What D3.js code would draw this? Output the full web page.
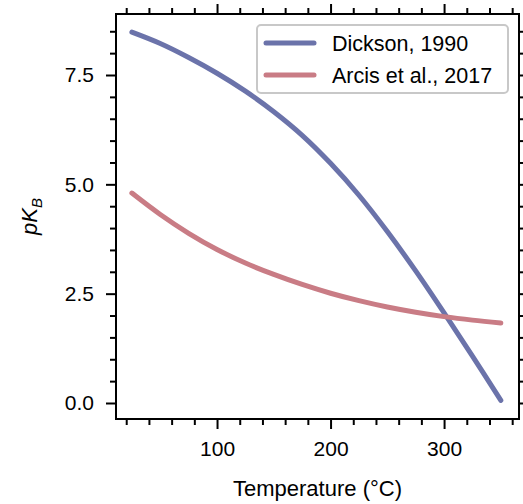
<!DOCTYPE html>
<html><head><meta charset="utf-8">
<script src="https://cdn.jsdelivr.net/npm/d3@7"></script>
<style>
html,body{margin:0;padding:0;background:#fff;}
svg text{font-family:"Liberation Sans",Arial,sans-serif;}
</style></head>
<body>
<svg id="chart" width="523" height="504"></svg>
<script>
const temperatures = [25, 50, 75, 100, 125, 150, 175, 200, 225, 250, 275, 300, 325, 350];
const dickson1990 = [8.48, 8.22, 7.90, 7.54, 7.13, 6.66, 6.12, 5.48, 4.75, 3.92, 3.02, 2.06, 1.07, 0.06];
const arcis2017 = [4.80, 4.31, 3.88, 3.51, 3.20, 2.94, 2.71, 2.51, 2.34, 2.195, 2.075, 1.975, 1.895, 1.83];
const seriesNames = ["Dickson, 1990", "Arcis et al., 2017"];
const seriesColors = ["#6b73aa", "#c97c85"];
const xTicks = [100, 200, 300];
const yTicks = [0.0, 2.5, 5.0, 7.5];

const svg = d3.select("#chart");
const L = 116, R = 519, T = 14, B = 419;
const x = d3.scaleLinear().domain([11, 366]).range([L, R]);
const y = d3.scaleLinear().domain([-0.366, 8.895]).range([B, T]);

const g = svg.append("g");

const xMinor = d3.range(20, 366, 20).filter(v => v % 100 !== 0);
const yMinor = d3.range(0, 8.9, 0.5).filter(v => Math.abs(v / 2.5 - Math.round(v / 2.5)) > 1e-6);

function styleAxis(sel) {
  sel.select(".domain").remove();
  sel.selectAll(".tick line").attr("stroke", "#000").attr("stroke-width", 2);
  sel.selectAll("text").attr("fill", "#000");
}

const xb = g.append("g").attr("transform", `translate(0,${B})`)
  .call(d3.axisBottom(x).tickValues(xTicks).tickSize(10).tickPadding(12).tickFormat(d3.format("d")));
styleAxis(xb);
xb.selectAll("text").attr("font-size", 21);
g.append("g").attr("transform", `translate(0,${B})`)
  .call(d3.axisBottom(x).tickValues(xMinor).tickSize(6).tickFormat(""))
  .call(styleAxis);
g.append("g").attr("transform", `translate(0,${T})`)
  .call(d3.axisTop(x).tickValues(xTicks).tickSize(10).tickFormat(""))
  .call(styleAxis);
g.append("g").attr("transform", `translate(0,${T})`)
  .call(d3.axisTop(x).tickValues(xMinor).tickSize(6).tickFormat(""))
  .call(styleAxis);
const yl = g.append("g").attr("transform", `translate(${L},0)`)
  .call(d3.axisLeft(y).tickValues(yTicks).tickSize(10).tickPadding(12).tickFormat(d3.format(".1f")));
styleAxis(yl);
yl.selectAll("text").attr("font-size", 21);
g.append("g").attr("transform", `translate(${L},0)`)
  .call(d3.axisLeft(y).tickValues(yMinor).tickSize(6).tickFormat(""))
  .call(styleAxis);
g.append("g").attr("transform", `translate(${R},0)`)
  .call(d3.axisRight(y).tickValues(yTicks).tickSize(10).tickFormat(""))
  .call(styleAxis);
g.append("g").attr("transform", `translate(${R},0)`)
  .call(d3.axisRight(y).tickValues(yMinor).tickSize(6).tickFormat(""))
  .call(styleAxis);

g.append("rect").attr("x", L).attr("y", T).attr("width", R - L).attr("height", B - T)
  .attr("fill", "none").attr("stroke", "#000").attr("stroke-width", 2);

const line = d3.line().x((d, i) => x(temperatures[i])).y(d => y(d)).curve(d3.curveCatmullRom.alpha(0.5));
[dickson1990, arcis2017].forEach((s, i) => {
  g.append("path").datum(s).attr("d", line)
    .attr("fill", "none").attr("stroke", seriesColors[i]).attr("stroke-width", 5)
    .attr("stroke-linecap", "round").attr("stroke-linejoin", "round");
});

const lg = g.append("g");
lg.append("rect").attr("x", 257).attr("y", 25).attr("width", 251).attr("height", 68)
  .attr("rx", 4).attr("fill", "#fff").attr("fill-opacity", 0.85)
  .attr("stroke", "#c8c8c8").attr("stroke-width", 2);
seriesNames.forEach((name, i) => {
  const yy = 43 + i * 32;
  lg.append("line").attr("x1", 266).attr("x2", 314).attr("y1", yy).attr("y2", yy)
    .attr("stroke", seriesColors[i]).attr("stroke-width", 5).attr("stroke-linecap", "round");
  lg.append("text").attr("x", 332).attr("y", yy + 7.5).attr("font-size", 21.5)
    .attr("fill", "#000").text(name);
});

g.append("text").attr("x", (L + R) / 2).attr("y", 496).attr("text-anchor", "middle")
  .attr("font-size", 22).attr("fill", "#000").text("Temperature (°C)");
const yt = g.append("text").attr("transform", `translate(37,${(T + B) / 2}) rotate(-90)`)
  .attr("text-anchor", "middle").attr("font-size", 22).attr("fill", "#000")
  .attr("font-style", "italic");
yt.append("tspan").text("pK");
yt.append("tspan").attr("font-size", 15).attr("dy", 5).text("B");
</script>
</body></html>
